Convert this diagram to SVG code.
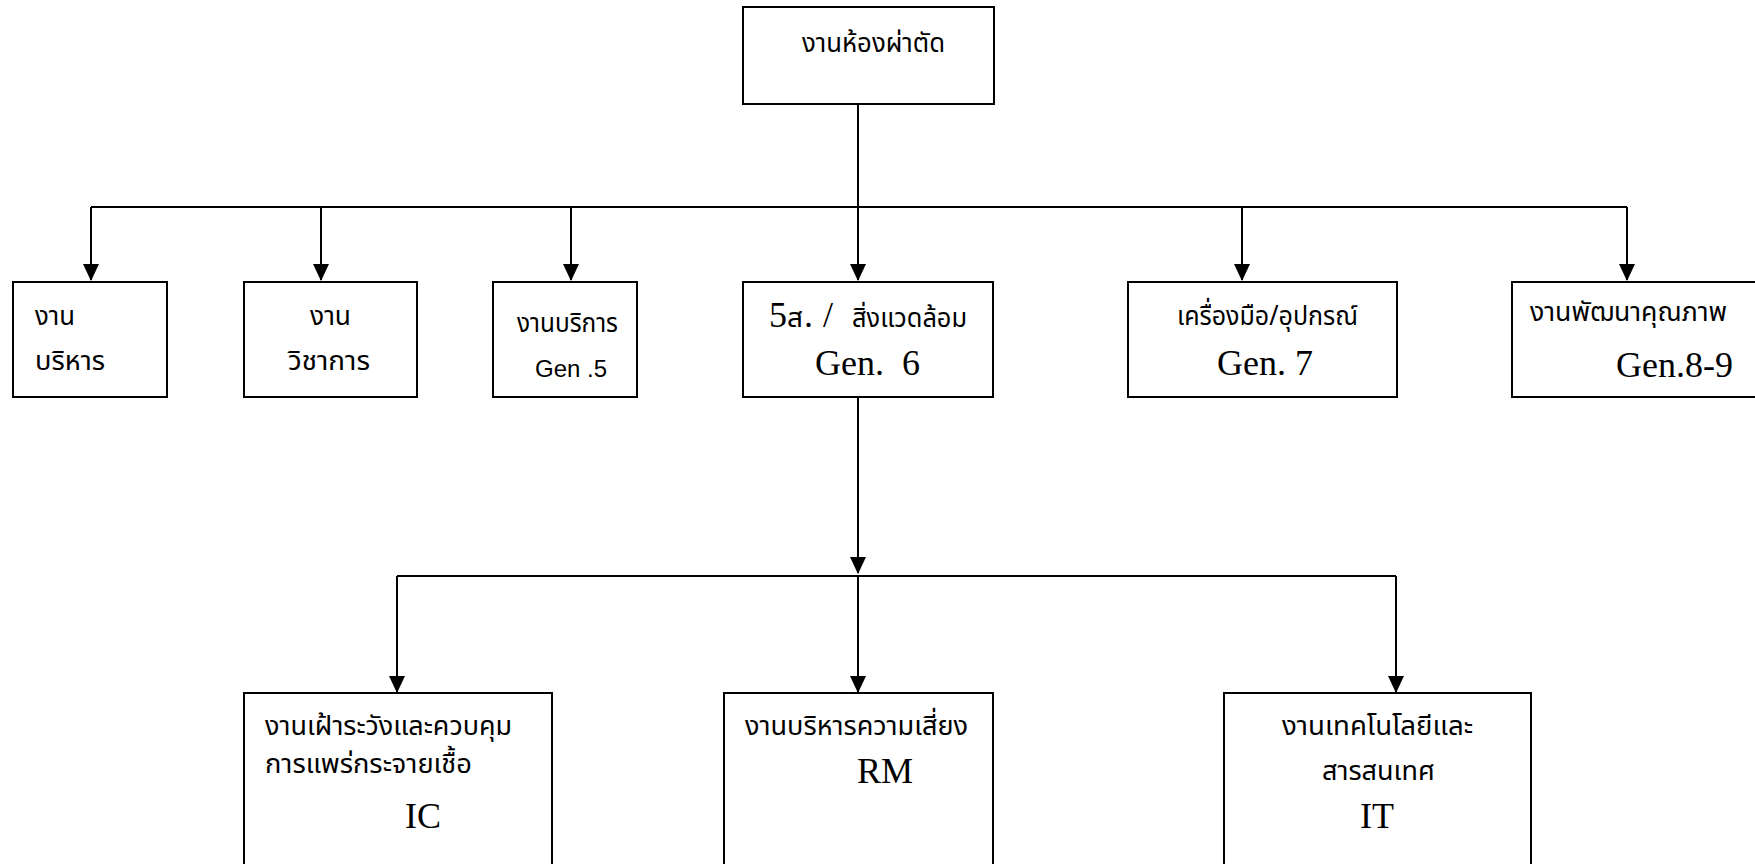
<svg xmlns="http://www.w3.org/2000/svg" width="1755" height="864" viewBox="0 0 1755 864">
  <style>
    .box { fill: #ffffff; stroke: #000000; stroke-width: 2; }
    .wire { fill: none; stroke: #000000; stroke-width: 2; }
    .th { font-family: "Noto Sans Thai", "Loma", "Tahoma", "DejaVu Sans", "Liberation Sans", sans-serif; font-size: 27px; fill: #000000; }
    .sans { font-family: "Liberation Sans", Arial, sans-serif; font-size: 24px; fill: #000000; }
    .serif { font-family: "Liberation Serif", "Times New Roman", serif; font-size: 36px; fill: #000000; white-space: pre; }
  </style>
  <defs>
    <marker id="arrow" markerUnits="userSpaceOnUse" markerWidth="16" markerHeight="17" refX="8" refY="16" orient="0" viewBox="0 0 16 17">
      <path d="M0,0 L16,0 L8,17 Z" fill="#000000"/>
    </marker>
  </defs>

  <rect width="1755" height="864" fill="#ffffff"/>

  <!-- connectors -->
  <g id="connectors">
    <path class="wire" d="M858,104 V280" marker-end="url(#arrow)"/>
    <path class="wire" d="M91,207 H1627"/>
    <path class="wire" d="M91,207 V280" marker-end="url(#arrow)"/>
    <path class="wire" d="M321,207 V280" marker-end="url(#arrow)"/>
    <path class="wire" d="M571,207 V280" marker-end="url(#arrow)"/>
    <path class="wire" d="M1242,207 V280" marker-end="url(#arrow)"/>
    <path class="wire" d="M1627,207 V280" marker-end="url(#arrow)"/>
    <path class="wire" d="M858,397 V573" marker-end="url(#arrow)"/>
    <path class="wire" d="M397,576 H1396"/>
    <path class="wire" d="M397,576 V692" marker-end="url(#arrow)"/>
    <path class="wire" d="M858,576 V692" marker-end="url(#arrow)"/>
    <path class="wire" d="M1396,576 V692" marker-end="url(#arrow)"/>
  </g>

  <!-- root -->
  <g id="or-unit">
    <rect class="box" x="743" y="7" width="251" height="97"/>
    <text class="th" x="802" y="52" textLength="143" lengthAdjust="spacingAndGlyphs">งานห้องผ่าตัด</text>
  </g>

  <!-- second level -->
  <g id="admin">
    <rect class="box" x="13" y="282" width="154" height="115"/>
    <text class="th" x="35" y="325" textLength="40" lengthAdjust="spacingAndGlyphs">งาน</text>
    <text class="th" x="35" y="370" textLength="70" lengthAdjust="spacingAndGlyphs">บริหาร</text>
  </g>

  <g id="academic">
    <rect class="box" x="244" y="282" width="173" height="115"/>
    <text class="th" x="310" y="325" textLength="41" lengthAdjust="spacingAndGlyphs">งาน</text>
    <text class="th" x="288" y="370" textLength="82" lengthAdjust="spacingAndGlyphs">วิชาการ</text>
  </g>

  <g id="service">
    <rect class="box" x="493" y="282" width="144" height="115"/>
    <text class="th" x="517" y="332" textLength="101" lengthAdjust="spacingAndGlyphs">งานบริการ</text>
    <text class="sans" x="535" y="377">Gen .5</text>
  </g>

  <g id="environment">
    <rect class="box" x="743" y="282" width="250" height="115"/>
    <text y="327"><tspan class="serif" x="769">5</tspan><tspan class="th" x="787" textLength="16" lengthAdjust="spacingAndGlyphs">ส</tspan><tspan class="serif" font-size="32" x="804">.</tspan><tspan class="serif" font-size="32" x="823">/</tspan><tspan class="th" x="852" textLength="115" lengthAdjust="spacingAndGlyphs">สิ่งแวดล้อม</tspan></text>
    <text class="serif" x="815" y="375" font-size="37">Gen.  6</text>
  </g>

  <g id="equipment">
    <rect class="box" x="1128" y="282" width="269" height="115"/>
    <text class="th" x="1177" y="325" textLength="181" lengthAdjust="spacingAndGlyphs">เครื่องมือ/อุปกรณ์</text>
    <text class="serif" x="1217" y="375" font-size="38">Gen. 7</text>
  </g>

  <g id="quality">
    <rect class="box" x="1512" y="282" width="250" height="115"/>
    <text class="th" x="1530" y="321" textLength="197" lengthAdjust="spacingAndGlyphs">งานพัฒนาคุณภาพ</text>
    <text class="serif" x="1616" y="377" font-size="37">Gen.8-9</text>
  </g>

  <!-- third level -->
  <g id="infection-control">
    <rect class="box" x="244" y="693" width="308" height="180"/>
    <text class="th" x="265" y="735" textLength="247" lengthAdjust="spacingAndGlyphs">งานเฝ้าระวังและควบคุม</text>
    <text class="th" x="265" y="773" textLength="207" lengthAdjust="spacingAndGlyphs">การแพร่กระจายเชื้อ</text>
    <text class="serif" x="405" y="828" font-size="35">IC</text>
  </g>

  <g id="risk-management">
    <rect class="box" x="724" y="693" width="269" height="180"/>
    <text class="th" x="745" y="735" textLength="223" lengthAdjust="spacingAndGlyphs">งานบริหารความเสี่ยง</text>
    <text class="serif" x="857" y="783">RM</text>
  </g>

  <g id="information-technology">
    <rect class="box" x="1224" y="693" width="307" height="180"/>
    <text class="th" x="1282" y="735" textLength="191" lengthAdjust="spacingAndGlyphs">งานเทคโนโลยีและ</text>
    <text class="th" x="1322" y="780" textLength="113" lengthAdjust="spacingAndGlyphs">สารสนเทศ</text>
    <text class="serif" x="1360" y="828" font-size="34">IT</text>
  </g>
</svg>
